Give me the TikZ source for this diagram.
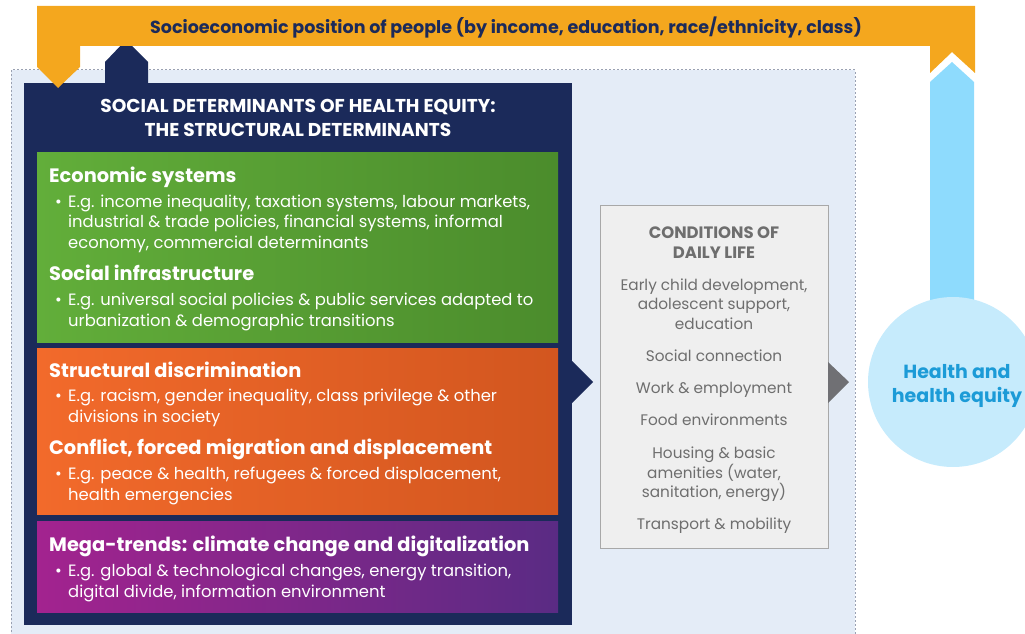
\documentclass[tikz,border=0pt]{standalone}
\usepackage{fontspec}
\setmainfont{Poppins}
\usetikzlibrary{calc,positioning}
\definecolor{orangebar}{HTML}{F4A71E}
\definecolor{navy}{HTML}{1B2A5A}
\definecolor{panelbg}{HTML}{E4ECF7}
\definecolor{panelline}{HTML}{9AA1B2}
\definecolor{greenL}{HTML}{62AE3A}
\definecolor{greenR}{HTML}{4B8C2C}
\definecolor{orangeL}{HTML}{F26A2B}
\definecolor{orangeR}{HTML}{D2561F}
\definecolor{purpleL}{HTML}{A3238F}
\definecolor{purpleR}{HTML}{5A2B84}
\definecolor{condbg}{HTML}{EFEFEF}
\definecolor{condline}{HTML}{A8A8A8}
\definecolor{condtext}{HTML}{6E6E6E}
\definecolor{chevgray}{HTML}{707074}
\definecolor{arrowblue}{HTML}{8EDBFD}
\definecolor{circlebg}{HTML}{C6EBFC}
\definecolor{goaltext}{HTML}{1C9BD7}
\tikzset{
  band/.style={anchor=north west, inner sep=0},
  heading/.style={anchor=base west, inner sep=0, text=white, font=\fontsize{19.4}{23}\selectfont\bfseries},
  bodyline/.style={anchor=base west, inner sep=0, text=white, font=\fontsize{16.4}{20}\selectfont},
  condline/.style={anchor=base, inner sep=0, text=condtext, font=\fontsize{15.3}{19}\selectfont},
}

\begin{document}
\begin{tikzpicture}[x=1pt,y=-1pt]
			%%%%% START %%%%%
			\useasboundingbox (0,0) rectangle (1025,634);
			
			% dotted panel
			\fill[panelbg] (11,70) rectangle (855,640);
			\draw[panelline, line width=1pt, dash pattern=on 2pt off 2pt] (11,640) -- (11,70) -- (855,70) -- (855,640);
			
			% structural determinants
			\node[band, fill=navy, minimum width=548, minimum height=542] (sdh) at (24,83) {};
			\fill[navy] (105,84) -- (105,62) -- (126,40) -- (148,62) -- (148,84) -- cycle;
			\node[anchor=base, inner sep=0, text=white, font=\fontsize{18.6}{20}\selectfont\bfseries] (sdhtitle) at (298,112) {SOCIAL DETERMINANTS OF HEALTH EQUITY:};
			\node[anchor=base, inner sep=0, text=white, font=\fontsize{18.6}{20}\selectfont\bfseries] (sdhsub) at (298,136) {THE STRUCTURAL DETERMINANTS};
			
			\node[band, left color=greenL, right color=greenR, minimum width=521, minimum height=190] (econ) at (37,152) {};
			\node[band, left color=orangeL, right color=orangeR, minimum width=521, minimum height=166] (discr) at (37,348) {};
			\node[band, left color=purpleL, right color=purpleR, minimum width=521, minimum height=91] (mega) at (37,521) {};
			
			\node[heading] (econh) at (49,182) {Economic systems};
			\node[bodyline] (econb) at (55,207) {•};
			\node[bodyline] (econ1) at (68,207) {E.g. income inequality, taxation systems, labour markets,};
			\node[bodyline] (econ2) at (68,227) {industrial \& trade policies, financial systems, informal};
			\node[bodyline] (econ3) at (68,248) {economy, commercial determinants};
			\node[heading] (infrah) at (49,280) {Social infrastructure};
			\node[bodyline] (infrab) at (55,305) {•};
			\node[bodyline] (infra1) at (68,305) {E.g. universal social policies \& public services adapted to};
			\node[bodyline] (infra2) at (68,326) {urbanization \& demographic transitions};
			
			\node[heading] (discrh) at (49,377) {Structural discrimination};
			\node[bodyline] (discrb) at (55,401) {•};
			\node[bodyline] (discr1) at (68,401) {E.g. racism, gender inequality, class privilege \& other};
			\node[bodyline] (discr2) at (68,422) {divisions in society};
			\node[heading] (conflh) at (49,454) {Conflict, forced migration and displacement};
			\node[bodyline] (conflb) at (55,479) {•};
			\node[bodyline] (confl1) at (68,479) {E.g. peace \& health, refugees \& forced displacement,};
			\node[bodyline] (confl2) at (68,500) {health emergencies};
			
			\node[heading] (megah) at (49,551) {Mega-trends: climate change and digitalization};
			\node[bodyline] (megab) at (55,576) {•};
			\node[bodyline] (mega1) at (68,576) {E.g. global \& technological changes, energy transition,};
			\node[bodyline] (mega2) at (68,597) {digital divide, information environment};
			
			% conditions of daily life
			\fill[navy] (572,361) -- (593,382) -- (572,403) -- cycle;
			\node[band, fill=condbg, draw=condline, line width=1pt, minimum width=228, minimum height=343] (cond) at (600,205) {};
			\node[condline, font=\fontsize{16.5}{19}\selectfont\bfseries] (condh1) at (714,238) {CONDITIONS OF};
			\node[condline, font=\fontsize{16.5}{19}\selectfont\bfseries] (condh2) at (714,258) {DAILY LIFE};
			\node[condline] (cond1) at (714,290) {Early child development,};
			\node[condline] (cond2) at (714,309) {adolescent support,};
			\node[condline] (cond3) at (714,329) {education};
			\node[condline] (cond4) at (714,361) {Social connection};
			\node[condline] (cond5) at (714,393) {Work \& employment};
			\node[condline] (cond6) at (714,425) {Food environments};
			\node[condline] (cond7) at (714,458) {Housing \& basic};
			\node[condline] (cond8) at (714,478) {amenities (water,};
			\node[condline] (cond9) at (714,497) {sanitation, energy)};
			\node[condline] (cond10) at (714,529) {Transport \& mobility};
			\fill[chevgray] (828,362) -- (849,382) -- (828,403) -- cycle;
			
			% health and health equity
			\fill[arrowblue] (930,300) -- (930,82) -- (952,62) -- (974,82) -- (974,300) -- cycle;
			\node[circle, fill=circlebg, minimum size=170, inner sep=0] (goal) at (953,382) {};
			\node[anchor=base, inner sep=0, text=goaltext, font=\fontsize{19}{23}\selectfont\bfseries] (goal1) at (957,378) {Health and};
			\node[anchor=base, inner sep=0, text=goaltext, font=\fontsize{19}{23}\selectfont\bfseries] (goal2) at (957,402) {health equity};
			
			% socioeconomic position
			\fill[orangebar] (37,6) -- (975,6) -- (975,73) -- (952,52) -- (930,73) -- (930,46) -- (80,46) -- (80,67) -- (58,88) -- (37,67) -- cycle;
			\node[anchor=base, inner sep=0, text=navy, font=\fontsize{17.5}{20}\selectfont\bfseries] (sep) at (506,34) {Socioeconomic position of people (by income, education, race/ethnicity, class)};
			
			%%%%% END %%%%%
		\end{tikzpicture}
\end{document}
